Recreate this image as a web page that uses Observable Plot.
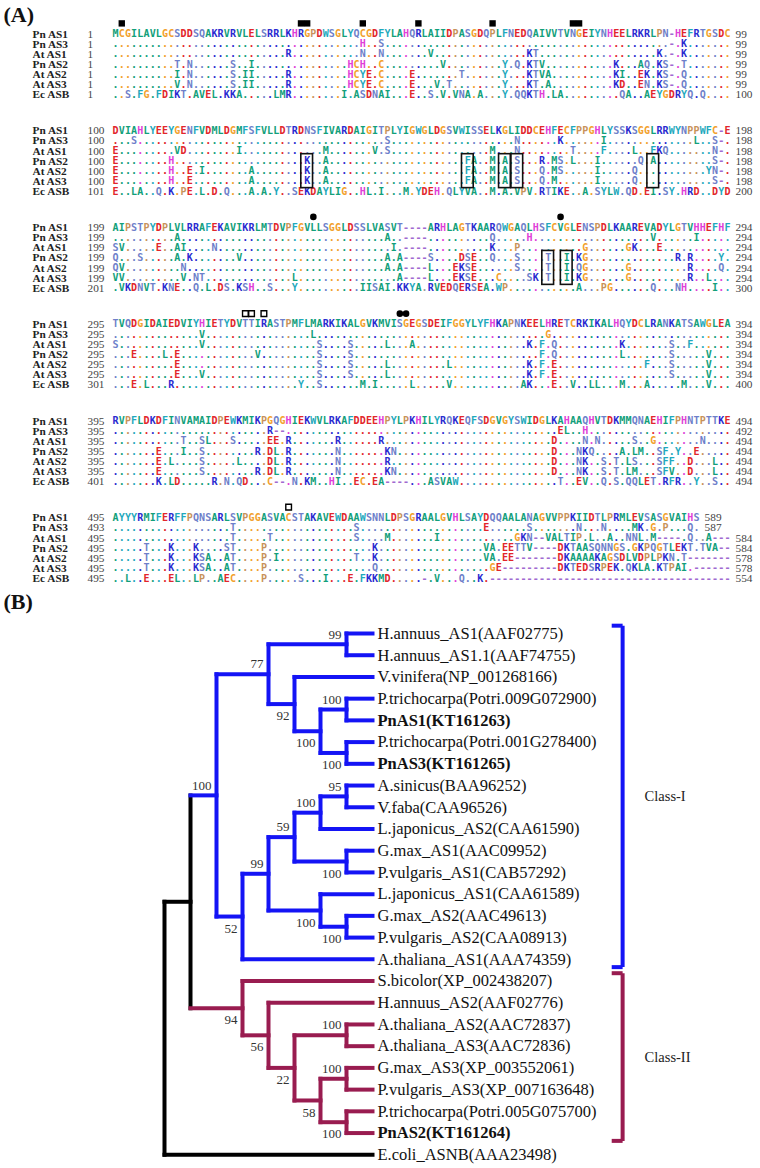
<!DOCTYPE html>
<html><head><meta charset="utf-8">
<script src="https://cdn.jsdelivr.net/npm/d3@7"></script>
<script src="https://cdn.jsdelivr.net/npm/@observablehq/plot@0.6"></script>
<style>body{margin:0;background:#fff}#chart svg{display:block;background:#fff}</style>
</head><body><div id="chart"></div>
<script>
// ---------------- Panel A data ----------------
const seqNames = ["Pn AS1","Pn AS3","At AS1","Pn AS2","At AS2","At AS3","Ec ASB"];
const refBlocks = [
 "MCGILAVLGCSDDSQAKRVRVLELSRRLKHRGPDWSGLYQCGDFYLAHQRLAIIDPASGDQPLFNEDQAIVVTVNGEIYNHEELRKRLPN-HEFRTGSDC",
 "DVIAHLYEEYGENFVDMLDGMFSFVLLDTRDNSFIVARDAIGITPLYIGWGLDGSVWISSELKGLIDDCEHFECFPPGHLYSSKSGGLRRWYNPPWFC-E",
 "AIPSTPYDPLVLRRAFEKAVIKRLMTDVPFGVLLSGGLDSSLVASVT----ARHLAGTKAARQWGAQLHSFCVGLENSPDLKAAREVADYLGTVHHEFHF",
 "TVQDGIDAIEDVIYHIETYDVTTIRASTPMFLMARKIKALGVKMVISGEGSDEIFGGYLYFHKAPNKEELHRETCRKIKALHQYDCLRANKATSAWGLEA",
 "RVPFLDKDFINVAMAIDPEWKMIKPGQGHIEKWVLRKAFDDEEHPYLPKHILYRQKEQFSDGVGYSWIDGLKAHAAQHVTDKMMQNAEHIFPHNTPTTKE",
 "AYYYRMIFERFFPQNSARLSVPGGASVACSTAKAVEWDAAWSNNLDPSGRAALGVHLSAYDQQAALANAGVVPPKIIDTLPRMLEVSASGVAIHS"
];
// differences from the first row (position + residues), '.' elsewhere
const diffBlocks = [
 ["41H 44S 91- 93K",
  "29R 41N 44N 52V 68KT 89K 91- 93K",
  "11T 13N 20S 23I 39HCH 44C 54V 64Y 66Q 68KTV 82K 86AQ 89KS- 93T",
  "11I 13N 20S 22II 29R 39HCYE 44C 49E 57T 64Y 68KTVA 82KI 86EK 89KS- 93Q",
  "11V 13N 20S 22II 29R 39HCYE 44C 49E 53V 55T 64Y 68KT 71A 82KD 86EN 89KS- 93Q",
  "3S 5FG 8FDIKT 14AVEL 19KKA 27LMR 38I 40ASDNAI 49E 52S 54V 56VNA 60A 64Y 66QQKTH 72LA 83QA 87AEYGDRYQ 96Q"],
 ["4S 45S 66N 73K 80I 95L 98S 99-",
  "1E 11VD 21I 35M 43V 45S 62M 66N 75T 80F 85L 88FKQ 98N 99-",
  "1E 10H 32K 35A 58FA 62M 64A 66S 70R 72MS 75L 79I 86Q 88A 98S 99-",
  "1E 10H 13E 15I 23A 32K 35A 58FA 62M 64A 66S 70Q 72MS 79I 85Q 97YN 99-",
  "1E 10H 13E 23A 32K 35A 58FA 62M 64A 66S 70Q 72M 79I 85Q 98S 99-",
  "1E 4LA 8Q 10K 12PE 15L 17D 19Q 23A 25A 27Y 30SEKDAYLIG 41HL 44I 48M 50YDEH 55QLYVA 62M 64A 66VPV 70RTIKE 77A 79SYLW 84QD 87EI 90SY 93HRD 98DYD"],
 ["11A 45A 48---- 62Q 68H 88V 95I",
  "1SV 8E 11AI 17N 46I 48---- 62K 66P 77G 84GK 89E",
  "1Q 5S 11A 13K 21V 45A 47A 48---- 52S 57DSE 62Q 66S 71T 74I 76KG 92R 94R 99Y",
  "1QV 12N 45A 47A 48---- 52L 56EKSE 66S 71T 74I 76QG 84G 94R 99Q",
  "1VV 12V 14NT 30L 47A 48---- 52L 56EKSE 63C 68SK 71T 74I 76KG 84G 94R 97L",
  "2VKDNVT 9KNE 14Q 16L 18DS 21KSH 26S 30Y 41IISAI 47KKYA 52RVEDQERSEA 63WP 76A 80PG 88Q 92NH 98I"],
 ["15V 33L 71G",
  "1S 15V 34S 39S 45L 49A 68K 70F 72Q 83K 91S 94F",
  "4E 9L 11E 24V 34S 39S 70F 72Q 83L 91S 97V",
  "11E 34S 39S 45L 55L 68K 70F 72E 87F 91S 97V",
  "11E 15V 34S 39S 45L 68K 70F 72E 91S 97V",
  "4E 6L 10R 31Y 34S 41M 43I 49L 55V 67AK 72E 75V 78LL 83M 87A 93M 97V"],
 ["26R 27-- 73EL 77H",
  "12T 15SL 20S 26EE 29R 37R 44R 72D 77N 79N 85S 88G 96N",
  "8E 12I 15S 24R 26DL 29R 37N 45KN 72D 76NKQ 83A 85LM 89SF 92Y 95E",
  "8E 10L 15S 21L 26DL 29R 37N 45R 72D 76NK 80S 82T 84LS 89SFF 94D 98L",
  "8E 15S 24R 26DL 29R 37N 45KN 72D 76NK 80S 82T 84LM 89SFV 94D 98L",
  "8K 10LD 17R 19N 21QD 26C-- 30N 32KM 36HI 40EC 43EA---- 52ASVAW 73T 76EV 80Q 82S 84QQLET 90RFR 95Y 98S"],
 ["20T 40S 61E 68S 76N 80N 85MK 88G 90P 94Q",
  "20T 26T 40S 45M 53I 66GKN 69-- 71VALTIP 78L 81A 84NNL 88M 89---- 94Q 97A 98---",
  "6T 10K 14K 19ST 25P 43K 61VA 64EETTV 69---- 73DKTAASQNNGS 85GKPQGTLEKT 96TVA 99--",
  "6T 10K 14KSA 19AT 25P 27I 40T 43K 61VA 64EE 66------- 73DKAAAAKAGSDLVDPLPKN 93T 94-------",
  "6T 10K 14KSA 19AT 25P 43Q 62GE 64--------- 73DKTEDSRPEK 84QKLA 89KTPAI 95------",
  "3L 6E 10EL 14LP 18AEC 25P 31S 35I 39E 41FKKMD 51- 53V 57Q 60K 62---------------------------------------"]
];
const rowLens = [
 [100,100,100,100,100,100,100],[100,100,100,100,100,100,100],[100,100,100,100,100,100,100],
 [100,100,100,100,100,100,100],[100,100,100,100,100,100,100],[95,95,100,100,100,100,100]
];
const startNums = [
 [1,1,1,1,1,1,1],[100,100,100,100,100,100,101],[199,199,199,199,199,199,201],
 [295,295,295,295,295,295,301],[395,395,395,395,395,395,401],[495,493,495,495,495,495,495]
];
const endNums = [
 [99,99,99,99,99,99,100],[198,198,198,198,198,198,200],[294,294,294,294,294,294,300],
 [394,394,394,394,394,394,400],[494,492,494,494,494,494,494],[589,587,584,584,578,578,554]
];
const filledSquareCols = [2,31,32,41,50,62,75,76];      // block 1
const filledDotCols = [33,73];                          // block 3
const pairDotCols = [47,48];                            // block 4
const openSquares = [[3,22],[3,23],[3,25],[5,29]];      // [block, col]
const boxedCols = [[1,32],[1,58],[1,64],[1,66],[1,88],[2,71],[2,74]]; // rows Pn AS2..At AS3

// ---------------- Panel B data ----------------
const leafNames = ["H.annuus_AS1(AAF02775)","H.annuus_AS1.1(AAF74755)","V.vinifera(NP_001268166)",
 "P.trichocarpa(Potri.009G072900)","PnAS1(KT161263)","P.trichocarpa(Potri.001G278400)","PnAS3(KT161265)",
 "A.sinicus(BAA96252)","V.faba(CAA96526)","L.japonicus_AS2(CAA61590)","G.max_AS1(AAC09952)",
 "P.vulgaris_AS1(CAB57292)","L.japonicus_AS1(CAA61589)","G.max_AS2(AAC49613)","P.vulgaris_AS2(CAA08913)",
 "A.thaliana_AS1(AAA74359)","S.bicolor(XP_002438207)","H.annuus_AS2(AAF02776)","A.thaliana_AS2(AAC72837)",
 "A.thaliana_AS3(AAC72836)","G.max_AS3(XP_003552061)","P.vulgaris_AS3(XP_007163648)",
 "P.trichocarpa(Potri.005G075700)","PnAS2(KT161264)","E.coli_ASNB(AAA23498)"];
const boldLeaves = [4,6,23];
// [child, child, bootstrap]
const tree = [[[[[0,1,99],[2,[[3,4,100],[5,6,100],100],92],77],
  [[[[[7,8,95],9,100],[10,11,100],59],[12,[13,14,100],100],99],15,52],100],
  [16,[17,[[18,19,100],[[20,21,100],[22,23,100],58],22],56],94],null],24,null];
const classes = [
 {label:"Class-I", from:0, to:15, color:"#1414f5"},
 {label:"Class-II", from:16, to:23, color:"#991c50"}
];

// ---------------- helpers ----------------
function resColor(c){
  if ("DE".includes(c)) return "#e2262b";
  if ("KR".includes(c)) return "#2a2ad0";
  if (c==="H") return "#e03fd8";
  if ("GC".includes(c)) return "#f2a12c";
  if (c==="P") return "#c8925a";
  if ("STNQ".includes(c)) return "#6e7fca";
  if ("FWY".includes(c)) return "#1fa9bd";
  if ("AILMV".includes(c)) return "#12a07a";
  if (c==="-") return "#a06ad0";
  return "#999";
}
function expandRow(spec, len){
  const arr = Array.from({length:len}, () => ".");
  spec.trim().split(/\s+/).filter(Boolean).forEach(tok => {
    const m = tok.match(/^(\d+)(.+)$/);
    const p = +m[1];
    [...m[2]].forEach((ch,k) => { if (p-1+k < len) arr[p-1+k] = ch; });
  });
  return arr;
}
// monospace size so that one glyph advance fits one alignment column
const colPx = 618/100;
const monoFamily = "DejaVu Sans Mono";
const monoSize = (() => {
  const ctx = document.createElement("canvas").getContext("2d");
  ctx.font = `bold 100px "${monoFamily}", monospace`;
  const adv = ctx.measureText("MMMMMMMMMM").width / 10 / 100;
  return Math.min(11, (colPx * 0.98) / (adv || 0.602));
})();

const blockStep = 96.75/10.1;
const lineOf = (b,r) => b*blockStep + r;

const residues = [], rowsMeta = [];
refBlocks.forEach((ref,b) => {
  seqNames.forEach((name,r) => {
    const len = rowLens[b][r];
    const chars = r===0 ? [...ref] : expandRow(diffBlocks[b][r-1], len);
    chars.forEach((ch,i) => {
      const rc = ref[i];
      const fill = ch==="." ? (rc && rc!=="-" ? resColor(rc) : "#9a9a9a") : resColor(ch);
      residues.push({col:i+1, line:lineOf(b,r), ch, fill});
    });
    rowsMeta.push({name, line:lineOf(b,r), start:startNums[b][r], end:endNums[b][r], len});
  });
});
const markLine = b => lineOf(b,0) - 1.05;

const plotA = Plot.plot({
  width:760, height:590, margin:0,
  style:{background:"#fff"},
  x:{domain:[0.5,100.5], range:[112,730], axis:null},
  y:{domain:[0,1], range:[33.5,43.6], axis:null},
  marks:[
    Plot.text(["(A)"], {text:d=>d, frameAnchor:"top-left", dx:3, dy:14, lineAnchor:"middle", textAnchor:"start",
      fontSize:22, fontWeight:"bold", fontFamily:"Liberation Serif", fill:"#111"}),
    Plot.text(rowsMeta, {y:"line", text:"name", frameAnchor:"left", dx:32, textAnchor:"start", lineAnchor:"middle",
      fontSize:11.3, fontWeight:"bold", fontFamily:"Liberation Serif", fill:"#222", ariaLabel:"names"}),
    Plot.text(rowsMeta, {y:"line", text:"start", frameAnchor:"left", dx:87, textAnchor:"start", lineAnchor:"middle",
      fontSize:11.3, fontFamily:"Liberation Serif", fill:"#444"}),
    Plot.text(rowsMeta, {x:d=>d.len+0.5, y:"line", text:"end", dx:5, textAnchor:"start", lineAnchor:"middle",
      fontSize:11.3, fontFamily:"Liberation Serif", fill:"#444"}),
    Plot.text(residues, {x:"col", y:"line", text:"ch", fill:d=>d.fill, lineAnchor:"middle", textAnchor:"middle",
      fontSize:monoSize, fontWeight:"bold", fontFamily:monoFamily, ariaLabel:"residues"}),
    Plot.rect(boxedCols, {x1:d=>d[1]-0.95, x2:d=>d[1]+0.95, y1:d=>lineOf(d[0],3)-0.68, y2:d=>lineOf(d[0],5)+0.68,
      fill:"none", stroke:"#111", strokeWidth:1.6}),
    Plot.dot(filledSquareCols, {x:d=>d, y:()=>markLine(0), symbol:"square", r:3.6, fill:"#000"}),
    Plot.dot(filledDotCols, {x:d=>d, y:()=>markLine(2), r:3.3, fill:"#000"}),
    Plot.dot(pairDotCols, {x:d=>d, y:()=>markLine(3), r:3.3, fill:"#000"}),
    Plot.dot(openSquares, {x:d=>d[1], y:d=>markLine(d[0]), symbol:"square", r:3.2, fill:"#fff", stroke:"#000", strokeWidth:1.4})
  ]
});
plotA.querySelectorAll('g[aria-label="names"]').forEach(g => g.style.letterSpacing = "1.3px");

// ---------------- tree layout ----------------
const nodes = [], edges = [];
function build(n){
  if (typeof n === "number") return {leaf:n, y:n, h:0, leaves:[n]};
  const kids = [build(n[0]), build(n[1])];
  return {kids, support:n[2], y:(kids[0].y+kids[1].y)/2, h:Math.max(kids[0].h,kids[1].h)+1,
    leaves:[...kids[0].leaves, ...kids[1].leaves]};
}
const root = build(tree);
function colorOf(n){
  const c = classes.find(c => n.leaves.every(l => l>=c.from && l<=c.to));
  return c ? c.color : "#000";
}
function walk(n, side){
  n.color = colorOf(n);
  if (!n.kids) return;
  if (n.support != null) nodes.push({h:n.h, y:n.y, support:n.support, side});
  edges.push({x1:n.h, y1:n.kids[0].y, x2:n.h, y2:n.kids[1].y, color:n.color});
  n.kids.forEach((k,i) => {
    walk(k, i===0 ? "up" : "down");
    edges.push({x1:n.h, y1:k.y, x2:k.h, y2:k.y, color:k.color});
  });
}
walk(root, "up");
const leaves = leafNames.map((name,i) => ({name, i, bold:boldLeaves.includes(i)}));
const bracketAt = -9.62, tickLen = 0.42;

const plotB = Plot.plot({
  width:760, height:578, margin:0,
  style:{background:"#fff"},
  x:{domain:[0,8], range:[372,164], axis:null},
  y:{domain:[0,1], range:[43,64.72], axis:null},
  marks:[
    Plot.text(["(B)"], {text:d=>d, frameAnchor:"top-left", dx:3, dy:11, lineAnchor:"middle", textAnchor:"start",
      fontSize:22, fontWeight:"bold", fontFamily:"Liberation Serif", fill:"#111"}),
    Plot.link(edges, {x1:"x1", y1:"y1", x2:"x2", y2:"y2", stroke:d=>d.color, strokeWidth:4, strokeLinecap:"square"}),
    Plot.text(nodes.filter(d=>d.side==="up"), {x:"h", y:"y", text:"support", dx:-5, dy:-10, textAnchor:"end",
      lineAnchor:"middle", fontSize:13, fontFamily:"Liberation Serif", fill:"#333"}),
    Plot.text(nodes.filter(d=>d.side==="down"), {x:"h", y:"y", text:"support", dx:-5, dy:12, textAnchor:"end",
      lineAnchor:"middle", fontSize:13, fontFamily:"Liberation Serif", fill:"#333"}),
    Plot.text(leaves.filter(d=>!d.bold), {x:()=>0, y:"i", text:"name", dx:5, textAnchor:"start", lineAnchor:"middle",
      fontSize:16.5, fontFamily:"Liberation Serif", fill:"#111"}),
    Plot.text(leaves.filter(d=>d.bold), {x:()=>0, y:"i", text:"name", dx:5, textAnchor:"start", lineAnchor:"middle",
      fontSize:16.5, fontWeight:"bold", fontFamily:"Liberation Serif", fill:"#111"}),
    Plot.link(classes, {x1:()=>bracketAt, x2:()=>bracketAt, y1:d=>d.from-0.36, y2:d=>d.to+0.36,
      stroke:d=>d.color, strokeWidth:4}),
    Plot.link(classes, {x1:()=>bracketAt, x2:()=>bracketAt+tickLen, y1:d=>d.from-0.36, y2:d=>d.from-0.36,
      stroke:d=>d.color, strokeWidth:4}),
    Plot.link(classes, {x1:()=>bracketAt, x2:()=>bracketAt+tickLen, y1:d=>d.to+0.36, y2:d=>d.to+0.36,
      stroke:d=>d.color, strokeWidth:4}),
    Plot.text(classes, {x:()=>bracketAt, y:d=>(d.from+d.to)/2, text:"label", dx:22, textAnchor:"start",
      lineAnchor:"middle", fontSize:14.5, fontFamily:"Liberation Serif", fill:"#222"})
  ]
});
document.getElementById("chart").append(plotA, plotB);
</script></body></html>
